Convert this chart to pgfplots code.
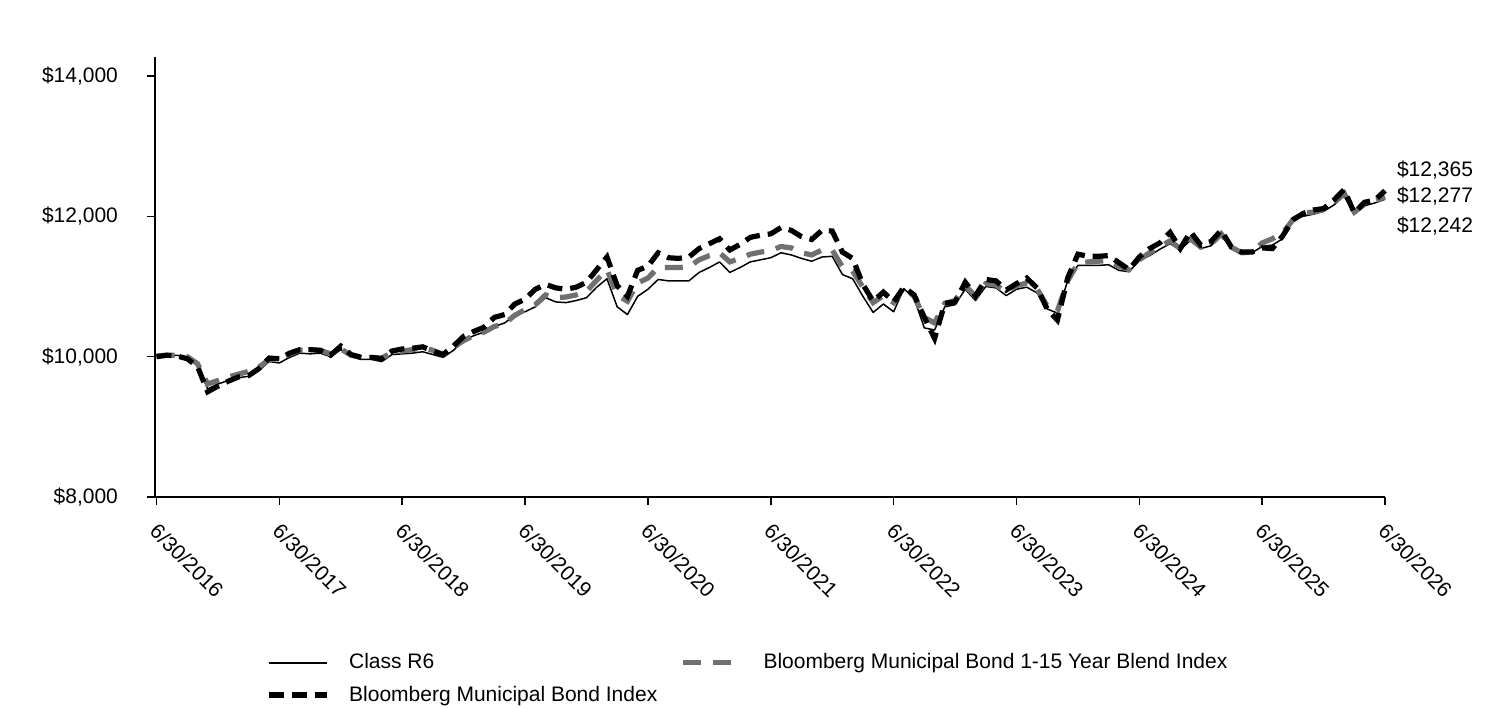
\documentclass[border=0pt]{standalone}
\usepackage{fontspec}
\setmainfont{Liberation Sans}
\usepackage{pgfplots}
\pgfplotsset{compat=1.18}
\usepackage{pgfplotstable}

\pgfplotstableread{
m r6 blend muni
0 10000 10010 10000
1 10010 10020 10020
2 10020 10020 10010
3 9990 10000 9970
4 9880 9900 9860
5 9540 9610 9500
6 9610 9660 9580
7 9660 9710 9650
8 9700 9750 9710
9 9720 9790 9730
10 9800 9850 9830
11 9930 9960 9980
12 9910 9970 9970
13 9990 10040 10050
14 10050 10090 10100
15 10040 10090 10100
16 10050 10090 10090
17 10000 10040 10020
18 10100 10110 10150
19 10000 10020 10030
20 9960 9990 9990
21 9960 9990 9990
22 9930 9980 9970
23 10030 10060 10080
24 10040 10080 10110
25 10050 10100 10120
26 10070 10130 10140
27 10030 10090 10080
28 9990 10030 10030
29 10090 10130 10150
30 10230 10230 10290
31 10300 10300 10360
32 10350 10350 10420
33 10430 10430 10560
34 10480 10470 10600
35 10590 10590 10750
36 10640 10670 10820
37 10710 10740 10960
38 10840 10880 11030
39 10780 10840 10980
40 10770 10850 10960
41 10800 10880 10990
42 10840 10930 11060
43 10990 11090 11240
44 11110 11240 11420
45 10710 10880 11010
46 10600 10790 10860
47 10860 11050 11230
48 10960 11120 11290
49 11100 11270 11480
50 11080 11270 11410
51 11080 11270 11400
52 11080 11280 11420
53 11200 11380 11540
54 11270 11440 11610
55 11350 11480 11680
56 11200 11350 11520
57 11270 11400 11600
58 11350 11460 11700
59 11380 11490 11730
60 11410 11510 11750
61 11480 11570 11840
62 11450 11550 11800
63 11400 11480 11710
64 11360 11450 11670
65 11420 11520 11800
66 11430 11520 11790
67 11170 11280 11490
68 11110 11220 11400
69 10860 10990 11030
70 10630 10770 10790
71 10750 10870 10920
72 10640 10770 10780
73 10970 10990 10990
74 10830 10860 10880
75 10410 10560 10560
76 10380 10480 10260
77 10710 10760 10760
78 10740 10800 10780
79 10960 11010 11060
80 10800 10860 10870
81 11000 11040 11100
82 10980 11020 11080
83 10870 10920 10950
84 10960 11010 11040
85 10990 11050 11120
86 10910 10970 10980
87 10680 10720 10680
88 10620 10650 10520
89 11080 11080 11120
90 11300 11330 11460
91 11300 11350 11430
92 11300 11360 11430
93 11310 11370 11440
94 11230 11290 11340
95 11210 11240 11240
96 11370 11380 11420
97 11440 11480 11540
98 11530 11570 11620
99 11610 11650 11770
100 11520 11540 11540
101 11660 11680 11780
102 11540 11560 11590
103 11580 11600 11640
104 11730 11750 11800
105 11540 11560 11560
106 11470 11480 11490
107 11480 11490 11490
108 11570 11620 11550
109 11590 11680 11540
110 11680 11760 11720
111 11950 11950 11950
112 12000 12050 12040
113 12030 12060 12090
114 12070 12100 12110
115 12160 12200 12230
116 12290 12330 12380
117 12030 12060 12050
118 12150 12170 12200
119 12190 12220 12230
120 12242 12277 12365
}\datatable

\definecolor{blendgray}{RGB}{112,112,112}

\begin{document}
\begin{tikzpicture}
\path[use as bounding box] (-77.5pt,-105.5pt) rectangle (678.5pt,248.5pt);
\begin{axis}[
  at={(0pt,0pt)}, anchor=south west,
  scale only axis, width=615pt, height=220pt,
  xmin=-0.15, xmax=120, ymin=8000, ymax=14270,
  axis lines=left,
  axis line style={-, line width=0.8pt, black},
  tick align=outside, major tick length=4pt,
  tick style={black, line width=0.8pt},
  scaled ticks=false,
  xtick={0,12,24,36,48,60,72,84,96,108,120},
  xticklabels={6/30/2016,6/30/2017,6/30/2018,6/30/2019,6/30/2020,6/30/2021,6/30/2022,6/30/2023,6/30/2024,6/30/2025,6/30/2026},
  ytick={8000,10000,12000,14000},
  yticklabels={{\$8,000},{\$10,000},{\$12,000},{\$14,000}},
  xticklabel style={rotate=-45, anchor=north west, xshift=3.5pt, yshift=-1.5pt},
  yticklabel style={xshift=-11pt},
  ticklabel style={font=\fontsize{10.5}{12.6}\selectfont},
  legend style={at={(0.085,-0.337)}, anchor=north west, draw=none, fill=none,
    font=\fontsize{10.5}{12.6}\selectfont, row sep=3pt,
    /tikz/every even column/.append style={column sep=9.5pt}},
  legend columns=2,
  legend cell align=left,
  legend image code/.code={\draw[#1] (0pt,0pt) -- (29pt,0pt); \path (37pt,0pt);},
  clip=false,
]
\addplot[black, line width=0.75pt, line join=round] table[x=m,y=r6]{\datatable};
\addplot[blendgray, line width=2.6pt, dash pattern=on 9pt off 6pt] table[x=m,y=blend]{\datatable};
\addplot[black, line width=2.6pt, dash pattern=on 7.5pt off 4pt] table[x=m,y=muni]{\datatable};
\legend{Class R6, Bloomberg Municipal Bond 1-15 Year Blend Index, Bloomberg Municipal Bond Index}
\node[anchor=west, xshift=2.5pt, font=\fontsize{10.5}{12.6}\selectfont] at (axis cs:120,12660) {\$12,365};
\node[anchor=west, xshift=2.5pt, font=\fontsize{10.5}{12.6}\selectfont] at (axis cs:120,12290) {\$12,277};
\node[anchor=west, xshift=2.5pt, font=\fontsize{10.5}{12.6}\selectfont] at (axis cs:120,11862) {\$12,242};
\end{axis}
\end{tikzpicture}
\end{document}
